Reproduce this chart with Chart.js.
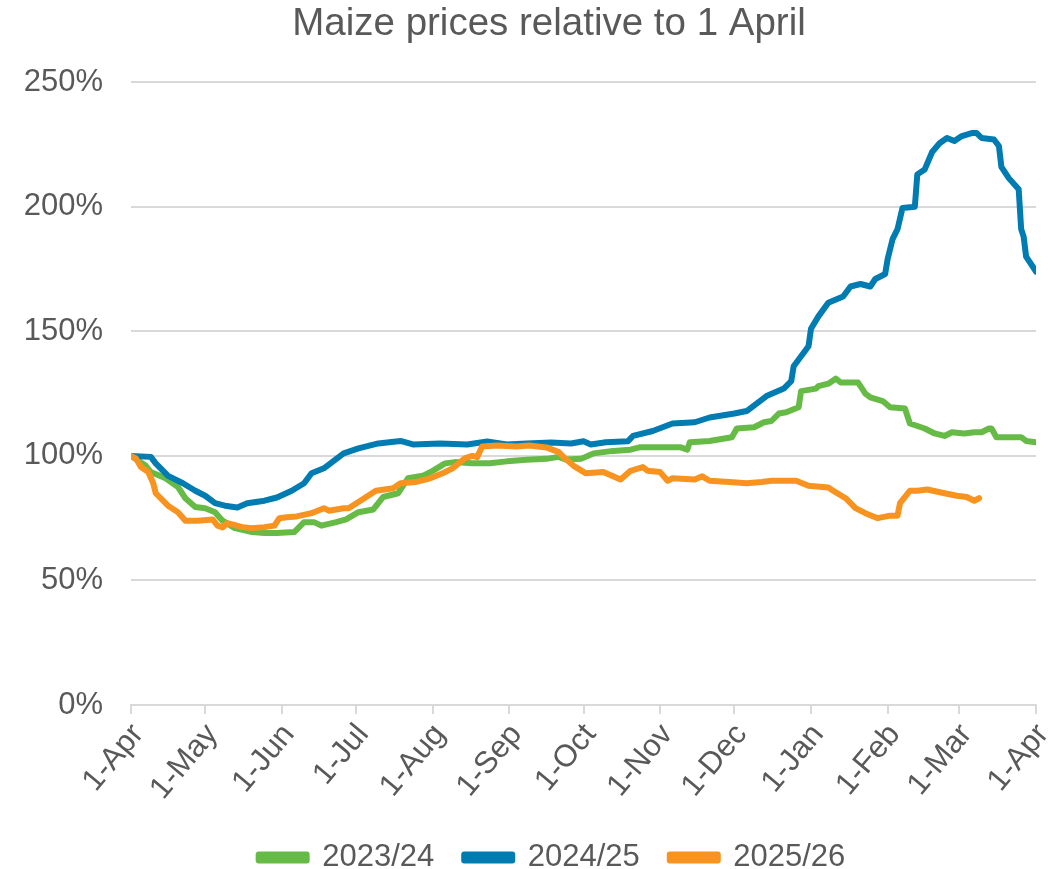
<!DOCTYPE html>
<html>
<head>
<meta charset="utf-8">
<title>Maize prices relative to 1 April</title>
<script src="https://cdn.jsdelivr.net/npm/chart.js@4.4.1/dist/chart.umd.min.js"></script>
<style>
  html, body { margin: 0; padding: 0; background: #fff; }
  #wrap { width: 1064px; height: 869px; }
</style>
</head>
<body>
<div id="wrap"><canvas id="maizeChart" width="1064" height="869"></canvas></div>
<script>
// ---- data (day offset from 1 April, % of 1 April price) ----
const tickDays = [0, 30, 61, 91, 122, 153, 183, 214, 244, 275, 306, 335, 366];
const tickLabels = ['1-Apr', '1-May', '1-Jun', '1-Jul', '1-Aug', '1-Sep', '1-Oct',
                    '1-Nov', '1-Dec', '1-Jan', '1-Feb', '1-Mar', '1-Apr'];

const days2324 = [0, 6, 8, 14, 19, 22, 26, 30, 34, 37, 42, 49, 54, 59, 66, 70, 74, 77, 83, 87,
                  92, 98, 102, 108, 112, 118, 122, 127, 131, 138, 145, 152, 160, 168, 173, 176,
                  182, 187, 195, 202, 206, 215, 222, 225, 226, 234, 243, 245, 252, 256, 259, 262,
                  265, 270, 271, 277, 278, 282, 285, 287, 294, 297, 299, 304, 307, 313, 315, 318,
                  321, 325, 329, 332, 337, 341, 344, 347, 348, 350, 356, 360, 362, 366];
const vals2324 = [100, 96, 93.5, 91, 87.5, 83, 79.5, 79, 77.4, 74, 71, 69.4, 69, 69, 69.4, 73.4,
                  73.4, 72, 73.4, 74.5, 77.4, 78.5, 83.5, 85, 91, 92, 94, 97, 97.5, 97, 97, 97.8,
                  98.4, 98.8, 99.6, 98.5, 98.8, 101, 102, 102.5, 103.5, 103.5, 103.5, 102.5, 105.5,
                  106, 107.5, 111, 111.5, 113.5, 114, 117, 117.5, 119.5, 126, 127, 128, 129, 131,
                  129.5, 129.5, 125, 123.5, 122, 119.5, 119, 113, 112, 111, 109, 108, 109.5, 109,
                  109.5, 109.5, 111, 111, 107.5, 107.5, 107.5, 106, 105.5];

const days2425 = [0, 8, 10, 15, 21, 26, 30, 34, 38, 43, 47, 54, 59, 65, 70, 73, 78, 82, 86, 92,
                  100, 109, 114, 125, 136, 144, 152, 160, 170, 178, 183, 186, 192, 201, 203, 211,
                  219, 228, 234, 244, 249, 253, 257, 264, 267, 268, 274, 275, 278, 282, 288, 291,
                  295, 299, 301, 305, 306, 308, 310, 312, 317, 318, 321, 324, 327, 330, 333, 336,
                  340, 342, 344, 349, 351, 352, 355, 359, 360, 361, 362, 366];
const vals2425 = [100, 99.6, 97, 92, 89, 86, 84, 81, 80, 79.3, 81, 82, 83.3, 86, 89, 93, 95, 98,
                  101, 103, 105, 106, 104.6, 105, 104.6, 105.8, 104.6, 105, 105.4, 105, 105.9,
                  104.6, 105.5, 105.9, 108, 110, 113, 113.5, 115.4, 117, 118, 121, 124, 127, 130,
                  136, 144, 151, 156, 161.5, 164, 168, 169, 168, 171, 173, 179, 187, 191, 199.5,
                  200, 213, 215, 222, 225.5, 227.6, 226.4, 228.4, 229.6, 229.6, 227.6, 227, 224.4,
                  216, 211.5, 207, 191, 188, 180, 174];

const days2526 = [0, 2, 4, 7, 9, 10, 15, 19, 22, 27, 33, 35, 37, 39, 45, 49, 54, 58, 60, 63, 67,
                  73, 78, 80, 86, 88, 92, 99, 106, 109, 115, 121, 126, 130, 135, 138, 140, 142,
                  148, 156, 161, 168, 173, 175, 179, 184, 191, 198, 202, 207, 209, 214, 217, 219,
                  228, 231, 234, 242, 249, 255, 259, 269, 274, 282, 284, 289, 293, 297, 302, 307,
                  310, 311, 315, 318, 322, 329, 334, 338, 341, 343];
const vals2526 = [100, 99, 95.5, 93.5, 89, 85, 80, 77.4, 74, 74, 74.5, 72, 71.3, 73, 71.4, 71,
                  71.4, 72, 75, 75.4, 75.7, 77, 79, 78, 79, 79, 81.5, 86, 87, 89, 89.5, 91, 93,
                  95, 99, 100, 99.5, 103.8, 104.2, 103.8, 104.2, 103.4, 101.5, 99.5, 96, 93, 93.5,
                  90.5, 94, 95.5, 94, 93.5, 90, 91, 90.5, 91.8, 90, 89.5, 89, 89.5, 90, 90, 88,
                  87.3, 86, 83, 79, 77, 75, 76, 76, 81, 86, 86, 86.5, 85, 84, 83.5, 82, 83];

const toPoints = (xs, ys) => xs.map((d, i) => ({ x: d, y: ys[i] }));

const textColor = '#595959';
const gridColor = '#D9D9D9';
const fontFamily = '"Liberation Sans", Arial, sans-serif';
const padLeft = 10;
const padBottom = -14;

// nudge title and legend to sit where the original has them (slightly right of centre)
const shiftBoxes = {
    id: 'shiftBoxes',
    afterLayout(chart) {
        const t = chart.titleBlock;
        if (t) { t.left += 26; t.right += 26; }
        const l = chart.legend;
        if (l) { l.left += 29; l.right += 29; }
    }
};

const chart = new Chart(document.getElementById('maizeChart').getContext('2d'), {
    type: 'line',
    data: {
        datasets: [
            { label: '2023/24', data: toPoints(days2324, vals2324), borderColor: '#66BB46', backgroundColor: '#66BB46', order: 3 },
            { label: '2024/25', data: toPoints(days2425, vals2425), borderColor: '#007CB2', backgroundColor: '#007CB2', order: 2 },
            { label: '2025/26', data: toPoints(days2526, vals2526), borderColor: '#F7931E', backgroundColor: '#F7931E', order: 1 }
        ]
    },
    plugins: [shiftBoxes],
    options: {
        responsive: false,
        animation: false,
        devicePixelRatio: 1,
        layout: { padding: { left: padLeft, right: 28, top: 0, bottom: padBottom } },
        elements: {
            line: { borderWidth: 6, tension: 0, borderJoinStyle: 'round', borderCapStyle: 'round' },
            point: { radius: 0 }
        },
        scales: {
            x: {
                type: 'linear',
                min: 0,
                max: 366,
                afterBuildTicks: (scale) => { scale.ticks = tickDays.map(v => ({ value: v })); },
                afterFit: (scale) => {
                    const leg = scale.chart.legend;
                    const legH = leg ? leg.height : 60;
                    scale.height = 869 - padBottom - legH - 705;
                    scale.paddingLeft = 0;
                    scale.paddingRight = 0;
                },
                ticks: {
                    autoSkip: false,
                    minRotation: 50,
                    maxRotation: 50,
                    padding: 3,
                    labelOffset: 7,
                    color: textColor,
                    font: { family: fontFamily, size: 31 },
                    callback: (v) => tickLabels[tickDays.indexOf(v)]
                },
                grid: { drawOnChartArea: false, drawTicks: true, tickLength: 9, color: gridColor, lineWidth: 2 },
                border: { color: gridColor, width: 2 }
            },
            y: {
                min: 0,
                max: 250,
                afterFit: (scale) => { scale.width = 131 - padLeft; },
                ticks: {
                    stepSize: 50,
                    padding: 28,
                    color: textColor,
                    font: { family: fontFamily, size: 31 },
                    callback: (v) => v + '%'
                },
                grid: { color: gridColor, lineWidth: 2, drawTicks: false },
                border: { display: false }
            }
        },
        plugins: {
            title: {
                display: true,
                text: 'Maize prices relative to 1 April',
                color: textColor,
                font: { family: fontFamily, size: 38.5, weight: 'normal' },
                padding: { top: 1, bottom: 35 }
            },
            legend: {
                position: 'bottom',
                labels: {
                    color: textColor,
                    font: { family: fontFamily, size: 31 },
                    boxWidth: 48,
                    boxHeight: 6,
                    padding: 30,
                    sort: (a, b) => a.datasetIndex - b.datasetIndex
                }
            },
            tooltip: { enabled: false }
        }
    }
});
</script>
</body>
</html>
